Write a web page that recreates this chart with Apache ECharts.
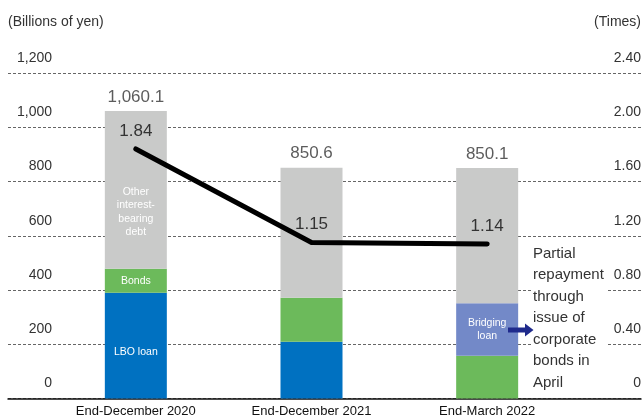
<!DOCTYPE html>
<html><head><meta charset="utf-8">
<script src="https://cdn.jsdelivr.net/npm/echarts@6/dist/echarts.min.js"></script>
<style>html,body{margin:0;padding:0;background:#fff}#c{width:644px;height:419px}</style>
</head><body><div id="c"></div>
<script>
const categories = ['End-December 2020', 'End-December 2021', 'End-March 2022'];
const lboLoan = [390, 209, 0];
const bonds = [88, 162, 158];
const bridgingLoan = [0, 0, 193];
const otherDebt = [582.1, 479.6, 499.1];
const totals = [1060.1, 850.6, 850.1];
const deRatio = [1.84, 1.15, 1.14];
const leftAxis = { min: 0, max: 1200, interval: 200 };
const rightAxis = { min: 0, max: 2.4, interval: 0.4 };

const FONT = '"Liberation Sans", Arial, sans-serif';
const C = { lbo: '#0071c1', bonds: '#6cba5b', bridging: '#7389c8', other: '#c9cac9' };

function fmtComma(v, d) {
  const s = d ? v.toFixed(d) : String(v);
  const parts = s.split('.');
  parts[0] = parts[0].replace(/\B(?=(\d{3})+(?!\d))/g, ',');
  return parts.join('.');
}
function withLabel(arr, idx, text, extra) {
  return arr.map((v, i) => i === idx ? {
    value: v,
    label: Object.assign({ show: true, position: 'inside', formatter: text, color: '#fff', fontSize: 10.5, lineHeight: 13.5, fontFamily: FONT }, extra || {})
  } : v);
}

const chart = echarts.init(document.getElementById('c'), null, { renderer: 'canvas' });
const gTop = 73, gBottom = 20.5;
chart.setOption({
  animation: false,
  backgroundColor: '#fff',
  textStyle: { fontFamily: FONT },
  grid: [
    { left: 8, right: 3, top: gTop, bottom: gBottom },
    { left: 48, right: 69, top: gTop, bottom: gBottom }
  ],
  xAxis: [
    { type: 'value', gridIndex: 0, min: 0, max: 1, axisLine: { show: true, lineStyle: { color: '#111', width: 1.5 } },
      axisTick: { show: false }, axisLabel: { show: false }, splitLine: { show: false } },
    { type: 'category', gridIndex: 1, data: categories, axisLine: { show: false }, axisTick: { show: false },
      axisLabel: { color: '#111', fontSize: 13, margin: 6, fontFamily: FONT } }
  ],
  yAxis: [
    { type: 'value', gridIndex: 0, position: 'left', min: leftAxis.min, max: leftAxis.max, interval: leftAxis.interval,
      axisLine: { show: false }, axisTick: { show: false },
      splitLine: { show: true, lineStyle: { color: '#666', type: [3, 2], width: 1 } },
      axisLabel: { inside: true, align: 'right', margin: 44, verticalAlign: 'bottom', padding: [0, 0, 8, 0],
        fontSize: 14, color: '#333', fontFamily: FONT, formatter: v => fmtComma(v) },
      name: '(Billions of yen)', nameLocation: 'end', nameGap: 51,
      nameTextStyle: { align: 'left', verticalAlign: 'middle', fontSize: 14, color: '#333', fontFamily: FONT } },
    { type: 'value', gridIndex: 0, position: 'right', min: rightAxis.min, max: rightAxis.max, interval: rightAxis.interval,
      axisLine: { show: false }, axisTick: { show: false }, splitLine: { show: false },
      axisLabel: { inside: true, align: 'right', margin: 0, verticalAlign: 'bottom', padding: [0, 0, 8, 0],
        fontSize: 14, color: '#333', fontFamily: FONT, formatter: v => v === 0 ? '0' : v.toFixed(2) },
      name: '(Times)', nameLocation: 'end', nameGap: 51,
      nameTextStyle: { align: 'right', verticalAlign: 'middle', fontSize: 14, color: '#333', fontFamily: FONT } },
    { type: 'value', gridIndex: 1, show: false, min: leftAxis.min, max: leftAxis.max, interval: leftAxis.interval, splitLine: { show: false } },
    { type: 'value', gridIndex: 1, show: false, min: rightAxis.min, max: rightAxis.max, interval: rightAxis.interval, splitLine: { show: false } }
  ],
  series: [
    { name: 'LBO loan', type: 'bar', xAxisIndex: 1, yAxisIndex: 2, stack: 'debt', barWidth: 62,
      itemStyle: { color: C.lbo }, data: withLabel(lboLoan, 0, 'LBO loan', { offset: [0, 7] }) },
    { name: 'Bonds', type: 'bar', xAxisIndex: 1, yAxisIndex: 2, stack: 'debt', barWidth: 62,
      itemStyle: { color: C.bonds }, data: withLabel(bonds, 0, 'Bonds') },
    { name: 'Bridging loan', type: 'bar', xAxisIndex: 1, yAxisIndex: 2, stack: 'debt', barWidth: 62,
      itemStyle: { color: C.bridging }, data: withLabel(bridgingLoan, 2, 'Bridging\nloan') },
    { name: 'Other interest-bearing debt', type: 'bar', xAxisIndex: 1, yAxisIndex: 2, stack: 'debt', barWidth: 62,
      itemStyle: { color: C.other }, data: withLabel(otherDebt, 0, 'Other\ninterest-\nbearing\ndebt', { offset: [0, 22] }) },
    { name: 'Total', type: 'scatter', xAxisIndex: 1, yAxisIndex: 2, symbolSize: 1, z: 5,
      itemStyle: { color: 'rgba(0,0,0,0)' }, data: totals,
      label: { show: true, position: 'top', distance: 5, fontSize: 17, color: '#333', fontFamily: FONT,
        formatter: p => fmtComma(p.value, 1) } },
    { name: 'Ratio', type: 'line', xAxisIndex: 1, yAxisIndex: 3, data: deRatio, z: 6,
      symbol: 'circle', symbolSize: 1, showSymbol: true, itemStyle: { color: 'rgba(0,0,0,0)' },
      lineStyle: { color: '#000', width: 5, cap: 'round', join: 'miter' },
      label: { show: true, position: 'top', distance: 9, fontSize: 17, color: '#333', fontFamily: FONT,
        formatter: p => p.value.toFixed(2) } }
  ],
  graphic: [
    { type: 'rect', z: 100, shape: { x: 531, y: 244, width: 76, height: 152 }, style: { fill: '#fff' } },
    { type: 'text', z: 101, left: 533, top: 243,
      style: { text: 'Partial\nrepayment\nthrough\nissue of\ncorporate\nbonds in\nApril', font: '15px ' + FONT,
        lineHeight: 21.5, fill: '#333' } },
    { type: 'polygon', z: 102,
      shape: { points: [[508, 327.5], [525, 327.5], [525, 323.5], [533.5, 330], [525, 336.5], [525, 332.5], [508, 332.5]] },
      style: { fill: '#1f2a8c' } }
  ]
});
</script>
</body></html>
